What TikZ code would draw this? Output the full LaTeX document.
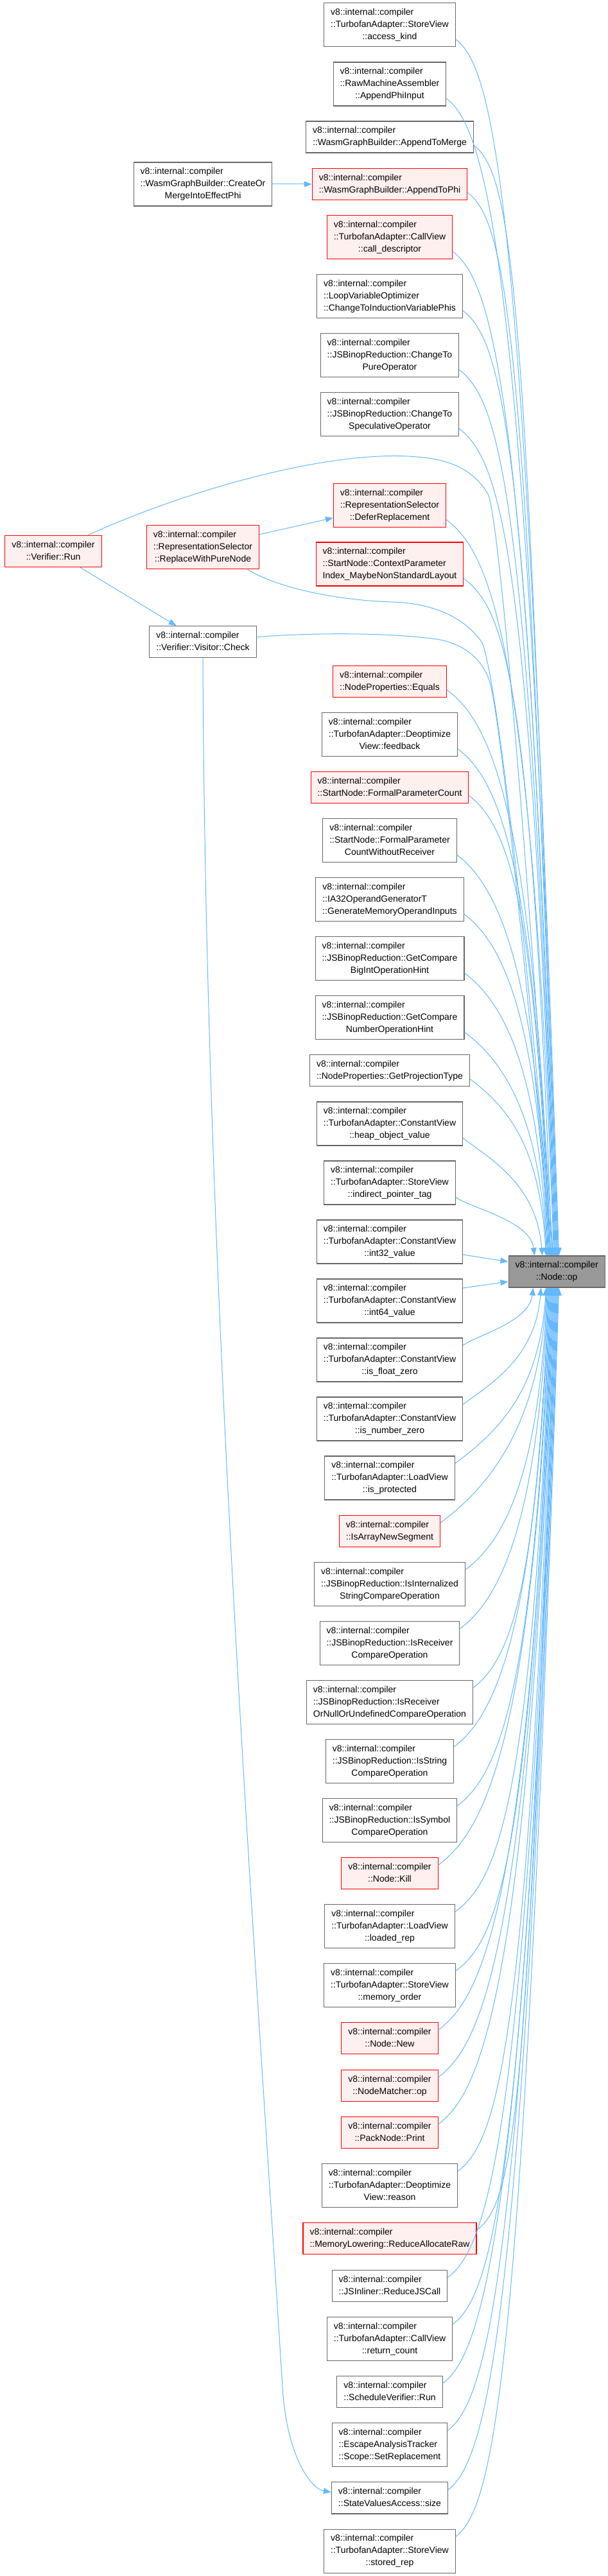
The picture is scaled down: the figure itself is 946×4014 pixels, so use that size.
\documentclass[tikz,border=0pt]{standalone}
\usepackage{fontspec}
\setmainfont{Liberation Sans}
\usetikzlibrary{arrows.meta,calc}
\definecolor{edgeblue}{HTML}{63B8FF}
\definecolor{bordergray}{HTML}{666666}
\definecolor{redfill}{HTML}{FFF0F0}
\definecolor{opfill}{HTML}{999999}
\newcommand\cgl[1]{\multicolumn{1}{@{}c@{}}{#1}}
\newcommand\cgt[1]{\begin{tabular}{@{}l@{}}#1\end{tabular}}
\newcommand\vic{v8::internal::compiler}
% edge from a node above Node::op into its top side
\newcommand\upedge[2]{%
  \draw[cgedge] let \p1=($(#1.south east)+(0,12)$), \p2=($(op.north west)+(#2,0)$),
    \n1={\y1-\y2}, \n2={min(80,0.3*\n1)},
    \n3={\n1*(0.6+0.25*min(1,max(0,(\n1-300)/700)))}
  in (\p1) .. controls ($(\p1)+(0.8*\n2,-0.6*\n2)$) and ($(\p2)+(-0.03*\n3-5,\n3)$) .. (\p2);}
% edge from a node below Node::op into its bottom side
\newcommand\dnedge[2]{%
  \draw[cgedge] let \p1=($(#1.north east)+(0,-12)$), \p2=($(op.south west)+(#2,0)$),
    \n1={\y2-\y1}, \n2={min(80,0.3*\n1)},
    \n3={\n1*(0.6+0.25*min(1,max(0,(\n1-300)/700)))}
  in (\p1) .. controls ($(\p1)+(0.8*\n2,0.6*\n2)$) and ($(\p2)+(-0.03*\n3-5,-\n3)$) .. (\p2);}
\tikzset{
  cgbase/.style={rectangle, inner xsep=10.5pt, inner ysep=5.5pt, line width=1.1pt,
    font=\fontsize{14}{19}\selectfont, text=black},
  nbox/.style={cgbase, draw=bordergray, fill=white},
  rbox/.style={cgbase, draw=red, fill=redfill},
  gbox/.style={cgbase, draw=bordergray, fill=opfill},
  cgedge/.style={draw=edgeblue, line width=1pt, -{Triangle[length=12pt,width=9pt]}}
}
\begin{document}
\begin{tikzpicture}[x=1pt,y=1pt]
\path[fill=white] (0,0) rectangle (946,-4014);
\useasboundingbox (0,0) rectangle (946,-4014);

\node[nbox] (n1) at (607,-38.8) {\cgt{\vic\\::TurbofanAdapter::StoreView\\\cgl{::access\_kind}}};
\node[nbox] (n2) at (607,-131) {\cgt{\vic\\::RawMachineAssembler\\\cgl{::AppendPhiInput}}};
\node[nbox] (n3) at (607,-213.5) {\cgt{\vic\\\cgl{::WasmGraphBuilder::AppendToMerge}}};
\node[nbox] (n4) at (316,-287) {\cgt{\vic\\::WasmGraphBuilder::CreateOr\\\cgl{MergeIntoEffectPhi}}};
\node[rbox] (n5) at (607,-287) {\cgt{\vic\\\cgl{::WasmGraphBuilder::AppendToPhi}}};
\node[rbox] (n6) at (607,-369.5) {\cgt{\vic\\::TurbofanAdapter::CallView\\\cgl{::call\_descriptor}}};
\node[nbox] (n7) at (607,-461.7) {\cgt{\vic\\::LoopVariableOptimizer\\\cgl{::ChangeToInductionVariablePhis}}};
\node[nbox] (n8) at (607,-553.7) {\cgt{\vic\\::JSBinopReduction::ChangeTo\\\cgl{PureOperator}}};
\node[nbox] (n9) at (607,-645.7) {\cgt{\vic\\::JSBinopReduction::ChangeTo\\\cgl{SpeculativeOperator}}};
\node[rbox] (n10) at (607,-787.2) {\cgt{\vic\\::RepresentationSelector\\\cgl{::DeferReplacement}}};
\node[rbox] (n11) at (607,-879) {\cgt{\vic\\::StartNode::ContextParameter\\\cgl{Index\_MaybeNonStandardLayout}}};
\node[rbox] (run) at (83,-858.8) {\cgt{\vic\\\cgl{::Verifier::Run}}};
\node[rbox] (rwp) at (316,-852.5) {\cgt{\vic\\::RepresentationSelector\\\cgl{::ReplaceWithPureNode}}};
\node[nbox] (chk) at (316,-1000.2) {\cgt{\vic\\\cgl{::Verifier::Visitor::Check}}};
\node[rbox] (n15) at (607,-1061.7) {\cgt{\vic\\\cgl{::NodeProperties::Equals}}};
\node[nbox] (n16) at (607,-1144.5) {\cgt{\vic\\::TurbofanAdapter::Deoptimize\\\cgl{View::feedback}}};
\node[rbox] (n17) at (607,-1226.8) {\cgt{\vic\\\cgl{::StartNode::FormalParameterCount}}};
\node[nbox] (n18) at (607,-1309.7) {\cgt{\vic\\::StartNode::FormalParameter\\\cgl{CountWithoutReceiver}}};
\node[nbox] (n19) at (607,-1401.7) {\cgt{\vic\\::IA32OperandGeneratorT\\\cgl{::GenerateMemoryOperandInputs}}};
\node[nbox] (n20) at (607,-1493.7) {\cgt{\vic\\::JSBinopReduction::GetCompare\\\cgl{BigIntOperationHint}}};
\node[nbox] (n21) at (607,-1585.7) {\cgt{\vic\\::JSBinopReduction::GetCompare\\\cgl{NumberOperationHint}}};
\node[nbox] (n22) at (607,-1668.3) {\cgt{\vic\\\cgl{::NodeProperties::GetProjectionType}}};
\node[nbox] (n23) at (607,-1751) {\cgt{\vic\\::TurbofanAdapter::ConstantView\\\cgl{::heap\_object\_value}}};
\node[nbox] (n24) at (607,-1843) {\cgt{\vic\\::TurbofanAdapter::StoreView\\\cgl{::indirect\_pointer\_tag}}};
\node[nbox] (n25) at (607,-1935) {\cgt{\vic\\::TurbofanAdapter::ConstantView\\\cgl{::int32\_value}}};
\node[gbox] (op) at (867.2,-1981.5) {\cgt{\vic\\\cgl{::Node::op}}};
\node[nbox] (n27) at (607,-2027) {\cgt{\vic\\::TurbofanAdapter::ConstantView\\\cgl{::int64\_value}}};
\node[nbox] (n28) at (607,-2119) {\cgt{\vic\\::TurbofanAdapter::ConstantView\\\cgl{::is\_float\_zero}}};
\node[nbox] (n29) at (607,-2211) {\cgt{\vic\\::TurbofanAdapter::ConstantView\\\cgl{::is\_number\_zero}}};
\node[nbox] (n30) at (607,-2303) {\cgt{\vic\\::TurbofanAdapter::LoadView\\\cgl{::is\_protected}}};
\node[rbox] (n31) at (607,-2385.8) {\cgt{\vic\\\cgl{::IsArrayNewSegment}}};
\node[nbox] (n32) at (607,-2468.5) {\cgt{\vic\\::JSBinopReduction::IsInternalized\\\cgl{StringCompareOperation}}};
\node[nbox] (n33) at (607,-2560.5) {\cgt{\vic\\::JSBinopReduction::IsReceiver\\\cgl{CompareOperation}}};
\node[nbox] (n34) at (607,-2652.3) {\cgt{\vic\\::JSBinopReduction::IsReceiver\\\cgl{OrNullOrUndefinedCompareOperation}}};
\node[nbox] (n35) at (607,-2744.5) {\cgt{\vic\\::JSBinopReduction::IsString\\\cgl{CompareOperation}}};
\node[nbox] (n36) at (607,-2836.5) {\cgt{\vic\\::JSBinopReduction::IsSymbol\\\cgl{CompareOperation}}};
\node[rbox] (n37) at (607,-2919.2) {\cgt{\vic\\\cgl{::Node::Kill}}};
\node[nbox] (n38) at (607,-3001.7) {\cgt{\vic\\::TurbofanAdapter::LoadView\\\cgl{::loaded\_rep}}};
\node[nbox] (n39) at (607,-3093.7) {\cgt{\vic\\::TurbofanAdapter::StoreView\\\cgl{::memory\_order}}};
\node[rbox] (n40) at (607,-3176.2) {\cgt{\vic\\\cgl{::Node::New}}};
\node[rbox] (n41) at (607,-3249.8) {\cgt{\vic\\\cgl{::NodeMatcher::op}}};
\node[rbox] (n42) at (607,-3323.2) {\cgt{\vic\\\cgl{::PackNode::Print}}};
\node[nbox] (n43) at (607,-3405.7) {\cgt{\vic\\::TurbofanAdapter::Deoptimize\\\cgl{View::reason}}};
\node[rbox] (n44) at (607,-3488.2) {\cgt{\vic\\\cgl{::MemoryLowering::ReduceAllocateRaw}}};
\node[nbox] (n45) at (607,-3561.8) {\cgt{\vic\\\cgl{::JSInliner::ReduceJSCall}}};
\node[nbox] (n46) at (607,-3644.3) {\cgt{\vic\\::TurbofanAdapter::CallView\\\cgl{::return\_count}}};
\node[nbox] (n47) at (607,-3726.8) {\cgt{\vic\\\cgl{::ScheduleVerifier::Run}}};
\node[nbox] (n48) at (607,-3809.7) {\cgt{\vic\\::EscapeAnalysisTracker\\\cgl{::Scope::SetReplacement}}};
\node[nbox] (n49) at (607,-3892.4) {\cgt{\vic\\\cgl{::StateValuesAccess::size}}};
\node[nbox] (n50) at (607,-3975) {\cgt{\vic\\::TurbofanAdapter::StoreView\\\cgl{::stored\_rep}}};

% short straight edges
\draw[cgedge] (n4) -- (n5);
\draw[cgedge] (rwp) -- (n10);
\draw[cgedge] (run) -- (chk);
\draw[cgedge] ($(n25.east)+(0,-20)$) -- ($(op.west)+(0,15.5)$);
\draw[cgedge] ($(n27.east)+(0,20)$) -- ($(op.west)+(0,-15.5)$);

% edges from the upper column into Node::op
\upedge{n1}{79}
\upedge{n2}{78}
\upedge{n3}{77}
\upedge{n5}{76}
\upedge{n6}{75}
\upedge{n7}{74}
\upedge{n8}{73}
\upedge{n9}{72}
\upedge{n10}{71}
\upedge{n11}{68}
\upedge{n15}{66}
\upedge{n16}{65}
\upedge{n17}{64}
\upedge{n18}{63}
\upedge{n19}{62}
\upedge{n20}{61}
\upedge{n21}{60}
\upedge{n22}{59}
\upedge{n23}{53}
\upedge{n24}{41}

% edges from the left-hand nodes into Node::op
\draw[cgedge] ($(run.north east)+(-21.6,0)$) .. controls (300,-760) and (520,-700) .. (650,-712)
  .. controls (705,-716) and (740,-735) .. (760,-770)
  .. controls (775,-800) and (812,-1200) .. ($(op.north west)+(70,0)$);
\draw[cgedge] ($(rwp.south east)+(-19,0)$) .. controls (430,-915) and (520,-935) .. (610,-938)
  .. controls (680,-940) and (725,-965) .. (750,-1000)
  .. controls (765,-1025) and (806,-1300) .. ($(op.north west)+(69,0)$);
\draw[cgedge] ($(chk.east)+(0,7.5)$) .. controls (480,-986) and (600,-985) .. (680,-996)
  .. controls (720,-1002) and (750,-1025) .. (762,-1060)
  .. controls (775,-1100) and (805,-1350) .. ($(op.north west)+(67,0)$);
\draw[cgedge] (chk.south) .. controls (320,-2000) and (395,-3000) .. (440,-3720)
  .. controls (447,-3830) and (485,-3878) .. ($(n49.west)+(0,9)$);

% edges from the lower column into Node::op
\dnedge{n28}{39}
\dnedge{n29}{51}
\dnedge{n30}{59}
\dnedge{n31}{60}
\dnedge{n32}{61}
\dnedge{n33}{62}
\dnedge{n34}{63}
\dnedge{n35}{64}
\dnedge{n36}{65}
\dnedge{n37}{66}
\dnedge{n38}{67}
\dnedge{n39}{68}
\dnedge{n40}{69}
\dnedge{n41}{70}
\dnedge{n42}{71}
\dnedge{n43}{72}
\dnedge{n44}{73}
\dnedge{n45}{74}
\dnedge{n46}{75}
\dnedge{n47}{76}
\dnedge{n48}{77}
\dnedge{n49}{78}
\dnedge{n50}{79}
\end{tikzpicture}
\end{document}
